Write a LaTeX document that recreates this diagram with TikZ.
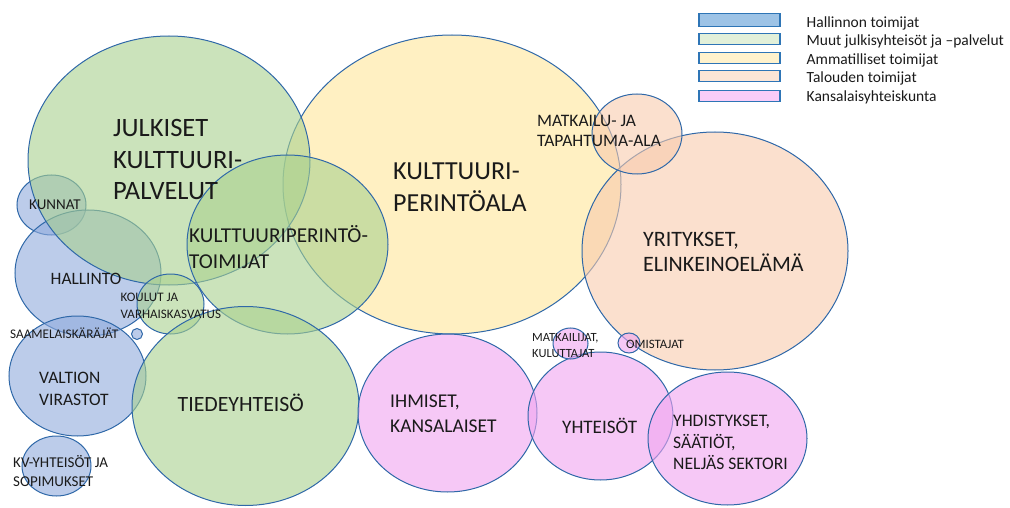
\documentclass[tikz,border=0pt]{standalone}
\usepackage{fontspec}
\setmainfont{Carlito}
\usetikzlibrary{shapes.geometric}
\definecolor{edge}{HTML}{2F68A8}
\definecolor{cblue}{HTML}{8FAADC}
\definecolor{cgreen}{HTML}{A9D18E}
\definecolor{cyellow}{HTML}{FFE699}
\definecolor{corange}{HTML}{F8CBAD}
\definecolor{cpink}{HTML}{F0A4F0}
\definecolor{lblue}{HTML}{9DC3E6}
\definecolor{lgreen}{HTML}{E2F0D9}
\definecolor{lyellow}{HTML}{FFF2CC}
\definecolor{lorange}{HTML}{FBE5D6}
\definecolor{lpink}{HTML}{F8CCF8}
\definecolor{legedge}{HTML}{2E75B6}
\definecolor{txt}{HTML}{1A1A1A}
\newcommand\fsz[2]{\fontsize{#1}{#2}\selectfont}
\tikzset{
  blob/.style={ellipse, draw=edge, line width=1pt, inner sep=0pt, fill opacity=0.6},
  lbl/.style={align=left, inner sep=0pt, anchor=west, text=txt},
  legbox/.style={rectangle, draw=legedge, line width=1.2pt, inner sep=0pt, minimum width=81pt, minimum height=11pt},
  legtxt/.style={anchor=base west, inner sep=0pt, text=txt, font=\fsz{15.5}{18}}
}
\begin{document}
\begin{tikzpicture}[x=1pt,y=-1pt]
\useasboundingbox (0,0) rectangle (1010,508);
% ellipses
\node[blob, fill=cblue, minimum width=69pt, minimum height=60pt] (kunnat) at (51.5,205) {};
\node[blob, fill=cblue, minimum width=146pt, minimum height=126pt] (hall) at (88,273) {};
\node[blob, fill=cyellow, minimum width=338pt, minimum height=299pt] (ala) at (452,184.5) {};
\node[blob, fill=corange, minimum width=266pt, minimum height=238pt] (yrit) at (715,251) {};
\node[blob, fill=corange, minimum width=90pt, minimum height=80pt] (matk) at (637,134) {};
\node[blob, fill=cgreen, minimum width=282pt, minimum height=249pt] (julk) at (169,160.5) {};
\node[blob, fill=cgreen, minimum width=201pt, minimum height=179pt] (toim) at (287.5,244.5) {};
\node[blob, fill=cgreen, minimum width=67pt, minimum height=60pt] (koul) at (170.5,304) {};
\node[blob, fill=cblue, minimum width=11pt, minimum height=11pt] (saame) at (137,334) {};
\node[blob, fill=cblue, minimum width=137pt, minimum height=120pt] (valt) at (77.5,376) {};
\node[blob, fill=cgreen, minimum width=227pt, minimum height=199pt] (tiede) at (245.5,406) {};
\node[blob, fill=cblue, minimum width=69pt, minimum height=60pt] (kv) at (56.5,466) {};
\node[blob, fill=cpink, minimum width=179pt, minimum height=158pt] (ihm) at (447.5,413) {};
\node[blob, fill=cpink, minimum width=145pt, minimum height=128pt] (yht) at (600.5,416) {};
\node[blob, fill=cpink, minimum width=159pt, minimum height=133pt] (yhd) at (727.5,438.5) {};
\node[blob, fill=cpink, minimum width=35pt, minimum height=31pt] (matkj) at (570.5,343.5) {};
\node[blob, fill=cpink, minimum width=22pt, minimum height=20pt] (omis) at (629,343) {};
% labels
\node[lbl, font=\fsz{26.5}{31.5}] (tjulk) at (113,159.5) {JULKISET\\KULTTUURI-\\PALVELUT};
\node[lbl, font=\fsz{26}{32}] (tala) at (393,187) {KULTTUURI-\\PERINTÖALA};
\node[lbl, font=\fsz{21.2}{26.5}] (ttoim) at (189,247) {KULTTUURIPERINTÖ-\\TOIMIJAT};
\node[lbl, font=\fsz{17.5}{20.5}] (tmatk) at (537,131) {MATKAILU- JA\\TAPAHTUMA-ALA};
\node[lbl, font=\fsz{22}{25.5}] (tyrit) at (643,252) {YRITYKSET,\\ELINKEINOELÄMÄ};
\node[lbl, font=\fsz{15}{18}] (tkunnat) at (29,205) {KUNNAT};
\node[lbl, font=\fsz{17.4}{20}] (thall) at (50.5,279) {HALLINTO};
\node[lbl, font=\fsz{13}{16.5}] (tkoul) at (120.5,305.8) {KOULUT JA\\VARHAISKASVATUS};
\node[lbl, font=\fsz{13.2}{16}] (tsaame) at (10,333) {SAAMELAISKÄRÄJÄT};
\node[lbl, font=\fsz{17.5}{21.7}] (tvalt) at (39,389) {VALTION\\VIRASTOT};
\node[lbl, font=\fsz{21.8}{26}] (ttiede) at (177.5,402.5) {TIEDEYHTEISÖ};
\node[lbl, font=\fsz{15}{18.3}] (tkv) at (13,471) {KV-YHTEISÖT JA\\SOPIMUKSET};
\node[lbl, font=\fsz{19.5}{24.6}] (tihm) at (390,414) {IHMISET,\\KANSALAISET};
\node[lbl, font=\fsz{19.1}{23}] (tyht) at (562,426) {YHTEISÖT};
\node[lbl, font=\fsz{17.6}{21.5}] (tyhd) at (673,442.5) {YHDISTYKSET,\\SÄÄTIÖT,\\NELJÄS SEKTORI};
\node[lbl, font=\fsz{12.5}{16}] (tmatkj) at (532,345.3) {MATKAILIJAT,\\KULUTTAJAT};
\node[lbl, font=\fsz{12.8}{15}] (tomis) at (626,344.5) {OMISTAJAT};
% legend
\node[legbox, fill=lblue, minimum height=13pt] (lg1) at (739.5,20) {};
\node[legbox, fill=lgreen] (lg2) at (739.5,39) {};
\node[legbox, fill=lyellow] (lg3) at (739.5,57.7) {};
\node[legbox, fill=lorange] (lg4) at (739.5,76.2) {};
\node[legbox, fill=lpink] (lg5) at (739.5,95.8) {};
\node[legtxt] (lt1) at (806.5,27.5) {Hallinnon toimijat};
\node[legtxt] (lt2) at (806.5,46) {Muut julkisyhteisöt ja –palvelut};
\node[legtxt] (lt3) at (806.5,64.5) {Ammatilliset toimijat};
\node[legtxt] (lt4) at (806.5,83) {Talouden toimijat};
\node[legtxt] (lt5) at (806.5,101.5) {Kansalaisyhteiskunta};
\end{tikzpicture}
\end{document}
